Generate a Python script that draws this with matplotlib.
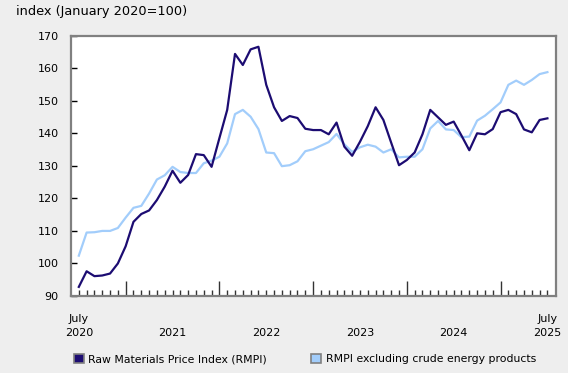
import matplotlib
matplotlib.use("Agg")
import matplotlib.pyplot as plt
import matplotlib.transforms as mtransforms
from matplotlib.patches import Patch

# monthly index values, July 2020 .. July 2025 (January 2020=100)
rmpi = [92.8, 97.6, 96.1, 96.3, 96.9, 100.0, 105.3, 112.8, 115.2, 116.3,
        119.5, 123.6, 128.5, 124.8, 127.2, 133.6, 133.3, 129.7, 138.5, 147.2,
        164.4, 161.0, 165.8, 166.6, 154.9, 148.0, 143.8, 145.3, 144.7, 141.4,
        141.0, 141.0, 139.7, 143.3, 135.9, 133.1, 137.4, 142.2, 148.0, 144.1,
        137.1, 130.2, 131.8, 134.1, 139.7, 147.2, 144.9, 142.6, 143.6, 139.3,
        134.8, 140.0, 139.7, 141.3, 146.5, 147.2, 145.9, 141.2, 140.3, 144.1,
        144.6]
rmpi_ex_energy = [102.4, 109.5, 109.6, 110.0, 110.0, 110.9, 114.1, 117.1, 117.7, 121.5,
                  125.8, 127.1, 129.7, 128.1, 127.8, 127.8, 130.8, 131.6, 132.8, 136.9,
                  145.9, 147.2, 145.1, 141.3, 134.1, 133.9, 129.9, 130.2, 131.4, 134.5,
                  135.1, 136.2, 137.3, 139.8, 136.6, 134.3, 135.7, 136.5, 135.9, 134.1,
                  135.1, 132.6, 132.8, 132.8, 135.1, 141.5, 143.8, 141.2, 141.0, 138.8,
                  139.0, 143.9, 145.4, 147.4, 149.5, 154.9, 156.2, 154.9, 156.4, 158.2,
                  158.8]
series_names = ['Raw Materials Price Index (RMPI)', 'RMPI excluding crude energy products']
x_labels = ['July\n2020', '2021', '2022', '2023', '2024', 'July\n2025']
x_label_months = [0, 12, 24, 36, 48, 60]
january_months = [6, 18, 30, 42, 54]
y_ticks = [90, 100, 110, 120, 130, 140, 150, 160, 170]

dark = '#1c0c72'
light = '#a2cdfb'
bg = '#eeeeee'
frame = '#808080'

plt.rcParams['font.family'] = 'DejaVu Sans'
tick_fs = 8.0

fig = plt.figure(figsize=(5.68, 3.73), dpi=100, facecolor=bg)
ax = fig.add_axes([71 / 568, 1 - 296 / 373, 485 / 568, 260.3 / 373])
ax.set_facecolor('white')

months = list(range(len(rmpi)))
ax.plot(months, rmpi_ex_energy, color=light, lw=1.6, zorder=3)
ax.plot(months, rmpi, color=dark, lw=1.6, zorder=4)

ax.set_xlim(-1, 61.1)
ax.set_ylim(90, 170)

for s in ax.spines.values():
    s.set_color(frame)
    s.set_linewidth(1.6)

ax.set_yticks(y_ticks)
ax.tick_params(axis='y', direction='in', length=4, width=1, color='black', pad=9, labelsize=tick_fs)

ax.set_xticks(january_months)
ax.set_xticklabels([])
ax.tick_params(axis='x', which='major', direction='in', length=11, width=1, color='#333333')
ax.set_xticks(months, minor=True)
ax.tick_params(axis='x', which='minor', direction='in', length=4, width=1, color='#333333')

trans = mtransforms.blended_transform_factory(ax.transData, fig.transFigure)
for m, lab in zip(x_label_months, x_labels):
    ax.text(m, 1 - 336 / 373, lab, transform=trans, ha='center', va='baseline',
            fontsize=tick_fs, linespacing=1.45)

fig.text(16 / 568, 1 - 12 / 373, 'index (January 2020=100)', ha='left', va='center', fontsize=9.3)

handles = [Patch(facecolor=dark, edgecolor=frame, linewidth=1.2),
           Patch(facecolor=light, edgecolor=frame, linewidth=1.2)]
fig.legend(handles, series_names, loc='center left', bbox_to_anchor=(64 / 568, 1 - 359 / 373),
           ncol=2, frameon=False, handlelength=0.9, handleheight=0.9, handletextpad=0.4,
           columnspacing=4.1, fontsize=7.85)

fig.savefig('out.png', dpi=100, facecolor=bg)
